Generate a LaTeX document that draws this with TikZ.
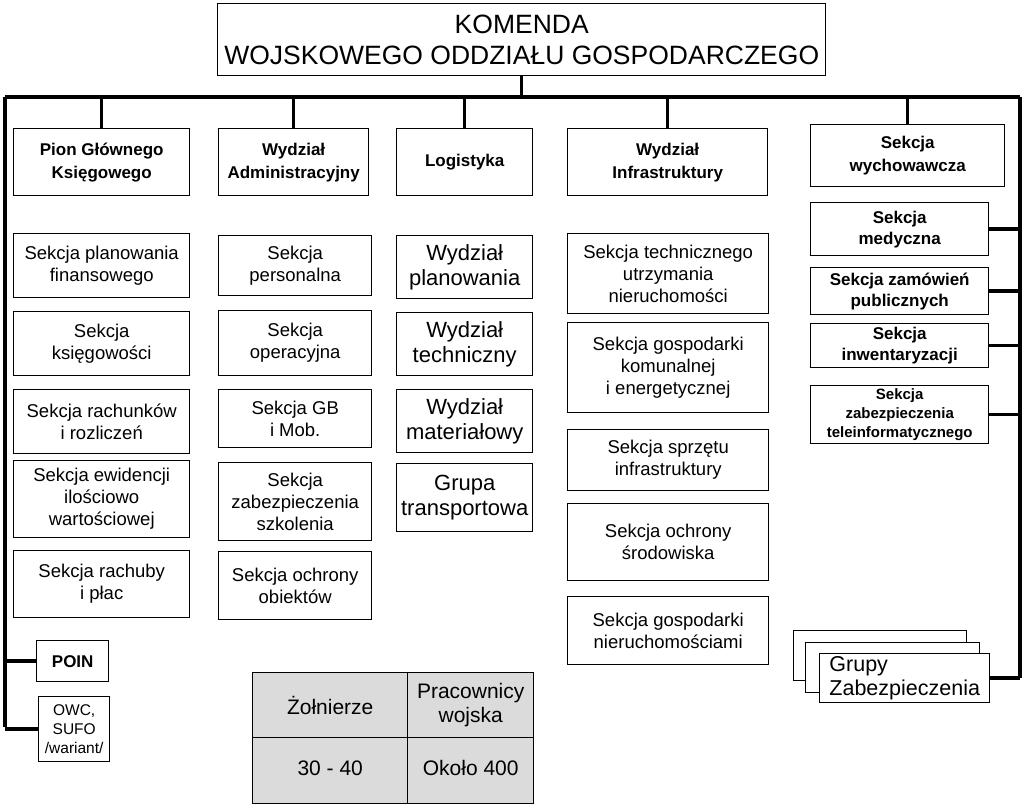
\documentclass[tikz,border=0pt]{standalone}
\usepackage{fontspec}
\setmainfont{Liberation Sans}
\begin{document}
\begin{tikzpicture}[x=1pt,y=-1pt,
  bx/.style 2 args={draw, line width=1.4pt, minimum width=#1, minimum height=#2, anchor=north west, inner sep=1pt, align=center, font=\fontsize{18.5}{22}\selectfont},
  hd/.style={font=\bfseries\fontsize{17}{23}\selectfont},
  lg/.style={font=\fontsize{22}{25}\selectfont},
  rb/.style={font=\bfseries\fontsize{17}{21}\selectfont},
  tb/.style={fill=black!14,font=\fontsize{21}{24}\selectfont},
  bus/.style={line width=3.5pt}]
\useasboundingbox (0,0) rectangle (1024,804);
\node[bx={608}{72}, font=\fontsize{26.5}{31}\selectfont] (top) at (217,3) {KOMENDA\\WOJSKOWEGO ODDZIAŁU GOSPODARCZEGO};
\coordinate (bl) at (5,97);
\coordinate (br) at (1020,97);
\coordinate (lb) at (5,727);
% headers
\node[bx={176}{67},hd] (h1) at (13,128) {Pion Głównego\\Księgowego};
\node[bx={150}{67},hd] (h2) at (218,128) {Wydział\\Administracyjny};
\node[bx={136}{67},hd] (h3) at (396,128) {Logistyka};
\node[bx={200}{67},hd] (h4) at (567,128) {Wydział\\Infrastruktury};
\node[bx={194}{62},hd] (h5) at (810,124) {Sekcja\\wychowawcza};
% column 1
\node[bx={176}{64}] (a1) at (13,233) {Sekcja planowania\\finansowego};
\node[bx={176}{64}] (a2) at (13,311) {Sekcja\\księgowości};
\node[bx={176}{64}] (a3) at (13,389) {Sekcja rachunków\\i rozliczeń};
\node[bx={176}{77}] (a4) at (13,460) {Sekcja ewidencji\\ilościowo\\wartościowej};
\node[bx={176}{67}] (a5) at (13,550) {Sekcja rachuby\\i płac};
\node[bx={72}{41},rb] (poin) at (36,640) {POIN};
\node[bx={71}{65}, font=\fontsize{15.5}{19}\selectfont] (owc) at (38,696) {OWC,\\SUFO\\/wariant/};
% column 2
\node[bx={153}{60}] (b1) at (218,235) {Sekcja\\personalna};
\node[bx={153}{65}] (b2) at (218,310) {Sekcja\\operacyjna};
\node[bx={153}{58}] (b3) at (218,389) {Sekcja GB\\i Mob.};
\node[bx={153}{78}] (b4) at (218,462) {Sekcja\\zabezpieczenia\\szkolenia};
\node[bx={153}{68}] (b5) at (218,551) {Sekcja ochrony\\obiektów};
% column 3
\node[bx={136}{63},lg] (c1) at (396,235) {Wydział\\planowania};
\node[bx={136}{63},lg] (c2) at (396,312) {Wydział\\techniczny};
\node[bx={136}{63},lg] (c3) at (396,389) {Wydział\\materiałowy};
\node[bx={136}{68},lg] (c4) at (396,463) {Grupa\\transportowa};
% column 4
\node[bx={201}{80}] (d1) at (567,233) {Sekcja technicznego\\utrzymania\\nieruchomości};
\node[bx={201}{90}] (d2) at (567,322) {Sekcja gospodarki\\komunalnej\\i energetycznej};
\node[bx={201}{61}] (d3) at (567,429) {Sekcja sprzętu\\infrastruktury};
\node[bx={201}{77}] (d4) at (567,503) {Sekcja ochrony\\środowiska};
\node[bx={201}{68}] (d5) at (567,596) {Sekcja gospodarki\\nieruchomościami};
% column 5
\node[bx={178}{53},rb] (e1) at (810,202) {Sekcja\\medyczna};
\node[bx={178}{47},rb] (e2) at (810,267) {Sekcja zamówień\\publicznych};
\node[bx={178}{44},rb] (e3) at (810,323) {Sekcja\\inwentaryzacji};
\node[bx={178}{58},font=\bfseries\fontsize{15}{19}\selectfont] (e4) at (810,385) {Sekcja\\zabezpieczenia\\teleinformatycznego};
\node[bx={173}{50},fill=white] (g3) at (793,630) {};
\node[bx={174}{50},fill=white] (g2) at (805,642) {};
\node[bx={170}{49},fill=white,align=left,font=\fontsize{21.5}{24}\selectfont] (g1) at (819,653) {Grupy\\Zabezpieczenia};
% table
\node[bx={155}{65},tb] (t1) at (252,672) {Żołnierze};
\node[bx={126}{65},tb] (t2) at (407,672) {Pracownicy\\wojska};
\node[bx={155}{66},tb] (t3) at (252,737) {\strut 30 - 40};
\node[bx={126}{66},tb] (t4) at (407,737) {\strut Około 400};
% connectors
\draw[bus] (bl) -- (br);
\draw[bus] (top.south) -- (top.south |- bl);
\foreach \n in {h1,h2,h3,h4,h5} \draw[bus] (\n.north) -- (\n.north |- bl);
\draw[bus] (bl) -- (lb);
\draw[bus] (poin.west) -- (poin.west -| bl);
\draw[bus] (owc.west) -- (owc.west -| lb);
\draw[bus] (br) -- (br |- g1.east);
\foreach \n in {e1,e2,e3,e4,g1} \draw[bus] (\n.east) -- (\n.east -| br);
\end{tikzpicture}
\end{document}
